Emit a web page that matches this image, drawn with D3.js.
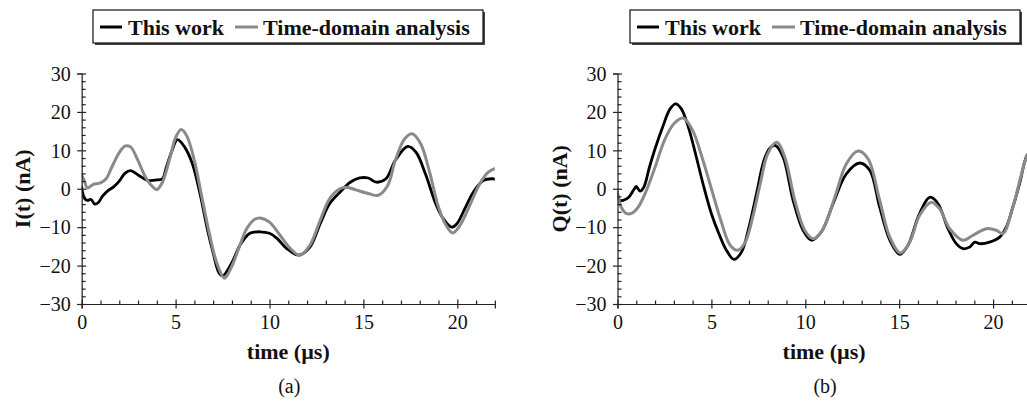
<!DOCTYPE html>
<html>
<head>
<meta charset="utf-8">
<script src="https://cdn.jsdelivr.net/npm/d3@7/dist/d3.min.js"></script>
<style>
  html, body { margin: 0; padding: 0; background: #fff; }
  svg { display: block; }
</style>
</head>
<body>
<svg id="chart" width="1027" height="401"></svg>
<script>
// ---------------- DATA ----------------
const seriesNames = ["This work", "Time-domain analysis"];
const xTicksMajor = [0, 5, 10, 15, 20];
const yTicksMajor = [-30, -20, -10, 0, 10, 20, 30];
const panelLabels = ["(a)", "(b)"];
const yTitles = ["I(t) (nA)", "Q(t) (nA)"];
const xTitle = "time (\u00b5s)";

// Panel (a): I(t)
const tI_work = [0, 0.15, 0.3, 0.5, 0.7, 0.9, 1.1, 1.4, 1.7, 2.0, 2.3, 2.6, 3.0, 3.5, 4.0, 4.3, 4.5, 4.8, 5.1, 5.5, 5.9, 6.3, 6.7, 7.0, 7.3, 7.5, 8.0, 8.45, 8.96, 9.5, 10.0, 10.4, 10.9, 11.55, 12.15, 12.7, 13.2, 13.75, 14.3, 14.8, 15.25, 15.7, 16.2, 16.7, 17.35, 17.8, 18.3, 18.85, 19.2, 19.7, 19.98, 20.4, 20.85, 21.4, 21.85, 22];
const I_work  = [0.5, -2.5, -3, -2.8, -4, -3.5, -2, -0.5, 0.5, 2, 4, 4.7, 3.6, 2.2, 2.3, 2.6, 5.5, 9.8, 12.8, 10.7, 6.4, -1.3, -10.7, -16.7, -21.8, -22.7, -19.2, -14.5, -11.6, -11.2, -11.6, -12.9, -15.5, -17.3, -15.2, -9.1, -3.9, -0.9, 1.7, 2.8, 2.8, 1.7, 2.6, 7.4, 11.0, 9.5, 3.9, -3.9, -7.4, -10, -9.1, -5.2, -0.9, 2.2, 2.6, 2.5];
const tI_tda  = [0, 0.15, 0.3, 0.6, 1.0, 1.3, 1.6, 2.0, 2.3, 2.6, 3.0, 3.4, 3.8, 4.0, 4.3, 4.7, 5.0, 5.3, 5.6, 6.0, 6.4, 6.8, 7.2, 7.6, 8.0, 8.4, 8.8, 9.2, 9.5, 10.0, 10.5, 11.1, 11.6, 12.15, 12.7, 13.2, 13.75, 14.1, 14.6, 15.3, 15.8, 16.3, 16.7, 17.2, 17.6, 18.05, 18.5, 19.0, 19.4, 19.75, 20.15, 20.7, 21.2, 21.65, 22];
const I_tda   = [3.5, 2, 0.2, 1.1, 1.5, 2.6, 5.6, 9.4, 11.1, 10.9, 7.3, 3, 0.4, -0.2, 1.7, 8.1, 13.3, 15.4, 13.7, 7.3, -2.2, -11.7, -19.4, -23.3, -20.1, -15, -10.3, -8, -7.6, -8.7, -11.7, -15.5, -17.3, -14.7, -8.2, -2.6, 0, 0.4, -0.3, -1.3, -1.7, 0.9, 7.4, 13, 14.3, 11.7, 4.8, -4.8, -9.5, -11.5, -9.5, -3.9, 1.3, 4.3, 5.2];

// Panel (b): Q(t)
const tQ_work = [0, 0.1, 0.3, 0.6, 0.9, 1.0, 1.2, 1.4, 1.7, 2.0, 2.4, 2.8, 3.1, 3.4, 3.8, 4.2, 4.6, 5.0, 5.4, 5.8, 6.2, 6.6, 7.0, 7.4, 7.8, 8.1, 8.4, 8.82, 9.35, 9.88, 10.33, 10.86, 11.48, 12.19, 12.9, 13.43, 13.96, 14.5, 15.03, 15.47, 16.0, 16.45, 16.66, 17.07, 17.6, 18.04, 18.4, 18.75, 19.02, 19.28, 19.81, 20.35, 20.7, 21.05, 21.41, 21.76, 22];
const Q_work  = [-0.9, -3, -3, -2.2, 0, 0.6, -0.6, 0.4, 5.6, 10.4, 16, 20.8, 22.1, 20.8, 15.6, 8.2, 0.4, -6.5, -11.7, -16, -18.4, -16.5, -10, -1.3, 7.4, 10.5, 11.3, 8.2, -3, -10.8, -13.4, -11.2, -3.9, 3.9, 6.7, 4.8, -4.8, -13.4, -17.1, -14.7, -7.4, -3, -2.2, -3.9, -10.4, -14.3, -15.6, -15.2, -13.9, -14.3, -13.9, -12.6, -10, -4.8, 1.3, 8.2, 10];
const tQ_tda  = [0, 0.2, 0.5, 0.8, 1.1, 1.5, 2.0, 2.5, 3.0, 3.5, 4.0, 4.5, 5.0, 5.5, 6.0, 6.4, 6.8, 7.2, 7.6, 8.0, 8.47, 8.91, 9.44, 9.97, 10.42, 10.95, 11.57, 12.19, 12.81, 13.34, 13.96, 14.5, 15.06, 15.56, 16.09, 16.71, 17.15, 17.69, 18.4, 18.93, 19.64, 20.17, 20.52, 21.05, 21.76, 22];
const Q_tda   = [-1, -4.8, -6.5, -6.3, -4.8, -0.9, 5.6, 12.6, 16.9, 18.4, 15.2, 8.2, 0, -8.2, -14.7, -16, -13.9, -7.4, 1.3, 9.1, 12.1, 8.2, -3, -10.8, -13, -10.4, -2.2, 6.5, 9.8, 7.8, -3, -12.6, -16.7, -13.9, -6.9, -3.5, -5.2, -10.4, -13.4, -12.1, -10.4, -10.8, -11.7, -4.8, 8, 10];

// ---------------- LAYOUT ----------------
const colors = ["#000000", "#8a8a8a"];
const svg = d3.select("#chart");
const FONT = '"Liberation Serif"';

function styleText(sel, size, bold) {
  sel.style("font-family", FONT).style("font-size", size + "px")
     .style("font-weight", bold ? "bold" : "normal").style("fill", "#111");
  return sel;
}

const panels = [
  { x0: 81.7, label: panelLabels[0], ytitle: yTitles[0], ytx: 22.5, legendX: 93,
    series: [d3.zip(tI_work, I_work), d3.zip(tI_tda, I_tda)] },
  { x0: 617.5, label: panelLabels[1], ytitle: yTitles[1], ytx: 559, legendX: 630,
    series: [d3.zip(tQ_work, Q_work), d3.zip(tQ_tda, Q_tda)] }
];

const yTop = 73.5, yBot = 304;
const pxPerUnit = 18.78;

const minorX = d3.range(0, 23, 1).filter(v => v % 5 !== 0);
const minorY = d3.range(-30, 31, 2).filter(v => v % 10 !== 0);

panels.forEach((p, i) => {
  const x = d3.scaleLinear().domain([0, 22]).range([p.x0, p.x0 + 22 * pxPerUnit]);
  const y = d3.scaleLinear().domain([-30, 30]).range([yBot, yTop]);
  const g = svg.append("g");

  const cid = "clip" + i;
  svg.append("clipPath").attr("id", cid).append("rect")
    .attr("x", x(0)).attr("y", y(30) - 5).attr("width", x(22) - x(0)).attr("height", y(-30) - y(30) + 5);

  const line = d3.line().x(d => x(d[0])).y(d => y(d[1])).curve(d3.curveCatmullRom.alpha(0.5));
  [0, 1].forEach(k => {
    g.append("path").datum(p.series[k])
      .attr("clip-path", `url(#${cid})`)
      .attr("fill", "none")
      .attr("stroke", colors[k])
      .attr("stroke-width", k === 0 ? 2.8 : 3.0)
      .attr("stroke-linejoin", "round")
      .attr("stroke-linecap", "round")
      .attr("d", line);
  });

  // X axis
  const xAxisG = g.append("g").attr("transform", `translate(0,${yBot})`);
  xAxisG.call(d3.axisBottom(x).tickValues(xTicksMajor).tickSizeOuter(0).tickSize(4.5).tickFormat(d3.format("d")));
  xAxisG.selectAll(".tick line").attr("y1", -4.5).attr("y2", 4.5);
  styleText(xAxisG.selectAll(".tick text").attr("y", 11).attr("dy", "0.71em"), 20, false);
  const xMinorG = g.append("g").attr("transform", `translate(0,${yBot})`);
  xMinorG.call(d3.axisBottom(x).tickValues(minorX).tickSize(-3.5).tickSizeOuter(0).tickFormat(""));
  xMinorG.select(".domain").remove();

  // Y axis
  const yAxisG = g.append("g").attr("transform", `translate(${x(0)},0)`);
  yAxisG.call(d3.axisLeft(y).tickValues(yTicksMajor).tickSizeOuter(0).tickSize(4.5).tickFormat(d3.format("d")));
  yAxisG.selectAll(".tick line").attr("x1", 4.5).attr("x2", -4.5);
  styleText(yAxisG.selectAll(".tick text").attr("x", -11).attr("dy", "0.34em"), 20, false);
  const yMinorG = g.append("g").attr("transform", `translate(${x(0)},0)`);
  yMinorG.call(d3.axisLeft(y).tickValues(minorY).tickSize(-4).tickSizeOuter(0).tickFormat(""));
  yMinorG.select(".domain").remove();

  g.selectAll(".domain, .tick line").attr("stroke", "#222").attr("stroke-width", 1.2);

  const cx = (x(0) + x(22)) / 2;
  styleText(g.append("text").attr("x", cx).attr("y", 359).attr("text-anchor", "middle"), 22, true).text(xTitle);
  styleText(g.append("text").attr("x", cx + 1).attr("y", 393).attr("text-anchor", "middle"), 20, false).text(p.label);
  styleText(g.append("text").attr("transform", `translate(${p.ytx},${(yTop + yBot) / 2}) rotate(-90)`)
    .attr("text-anchor", "middle").attr("dy", "0.35em"), 22, true).text(p.ytitle);

  // legend
  const lx = p.legendX, ly = 10, lw = 390, lh = 33;
  const lg = g.append("g");
  lg.append("rect").attr("x", lx + 2).attr("y", ly + 2).attr("width", lw).attr("height", lh).attr("fill", "#444");
  lg.append("rect").attr("x", lx).attr("y", ly).attr("width", lw).attr("height", lh)
    .attr("fill", "#fff").attr("stroke", "#111").attr("stroke-width", 1.2);
  const items = [{ ls: 7, le: 29, tx: 35 }, { ls: 142, le: 165, tx: 170 }];
  items.forEach((it, k) => {
    lg.append("line").attr("x1", lx + it.ls).attr("x2", lx + it.le)
      .attr("y1", ly + 17).attr("y2", ly + 17)
      .attr("stroke", colors[k]).attr("stroke-width", 3);
    styleText(lg.append("text").attr("x", lx + it.tx).attr("y", ly + 25), 22, true).text(seriesNames[k]);
  });
});
</script>
</body>
</html>
